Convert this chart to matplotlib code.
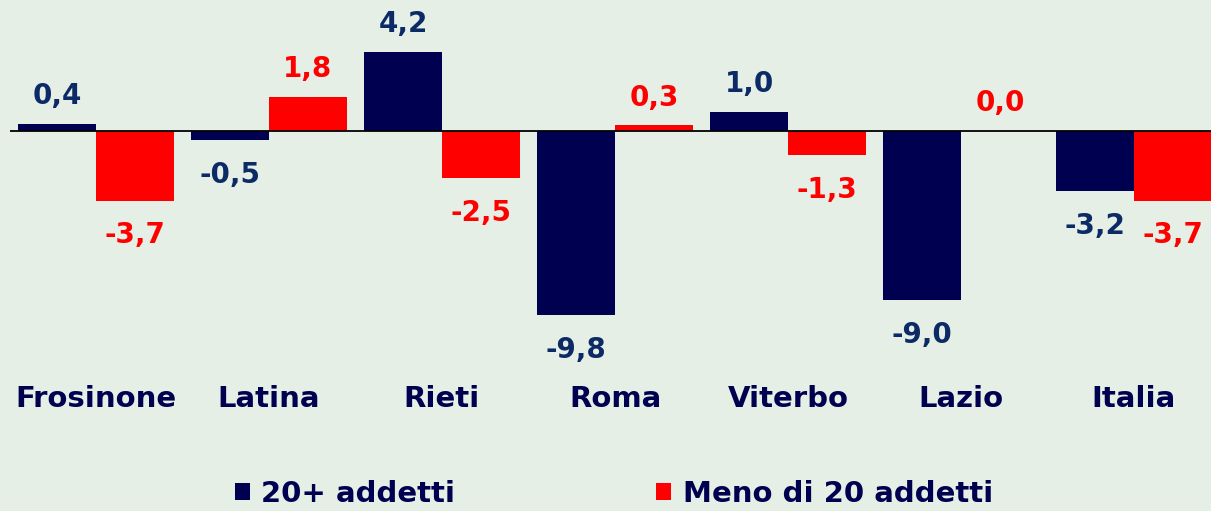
import matplotlib.pyplot as plt
import numpy as np

# dati
categorie = ['Frosinone', 'Latina', 'Rieti', 'Roma', 'Viterbo', 'Lazio', 'Italia']
grandi = [0.4, -0.5, 4.2, -9.8, 1.0, -9.0, -3.2]
piccole = [-3.7, 1.8, -2.5, 0.3, -1.3, 0.0, -3.7]
serie = ['20+ addetti', 'Meno di 20 addetti']

sfondo = '#e5efe5'
blu = '#000050'
blu_testo = '#0b2a66'
rosso = '#ff0000'

fig = plt.figure(figsize=(12.11, 5.11), dpi=100, facecolor=sfondo)
ax = fig.add_axes([9.5 / 1211, 151 / 511, 1.0, 360 / 511])
ax.set_facecolor(sfondo)

x = np.arange(len(categorie))
w = 0.45
b1 = ax.bar(x - w / 2, grandi, w, color=blu, label=serie[0])
b2 = ax.bar(x + w / 2, piccole, w, color=rosso, label=serie[1])

ax.axhline(0, color='black', lw=1.3)
ax.set_xlim(-0.5, 6.5)
ax.set_ylim(-12.18, 6.97)

# etichette dei valori
for barre, vals, col in [(b1, grandi, blu_testo), (b2, piccole, rosso)]:
    for r, v in zip(barre, vals):
        testo = f'{v:.1f}'.replace('.', ',')
        if v >= 0:
            ax.annotate(testo, (r.get_x() + r.get_width() / 2, v), xytext=(0, 10),
                        textcoords='offset points', ha='center', va='bottom',
                        fontsize=20, fontweight='bold', color=col)
        else:
            ax.annotate(testo, (r.get_x() + r.get_width() / 2, v), xytext=(0, -15),
                        textcoords='offset points', ha='center', va='top',
                        fontsize=20, fontweight='bold', color=col)

ax.set_xticks(x)
ax.set_xticklabels(categorie, fontsize=21, fontweight='bold', color=blu)
ax.tick_params(axis='x', length=0, pad=18)
ax.set_yticks([])
for s in ax.spines.values():
    s.set_visible(False)

leg = fig.legend(handles=[b1, b2], labels=serie, loc='center', bbox_to_anchor=(0.507, 0.033),
                 ncol=2, frameon=False, handlelength=0.5, handleheight=0.5,
                 columnspacing=6.9, handletextpad=0.4, borderpad=0,
                 prop={'size': 21, 'weight': 'bold'})
for t in leg.get_texts():
    t.set_color(blu)

fig.savefig('out.png', dpi=100, facecolor=sfondo)
